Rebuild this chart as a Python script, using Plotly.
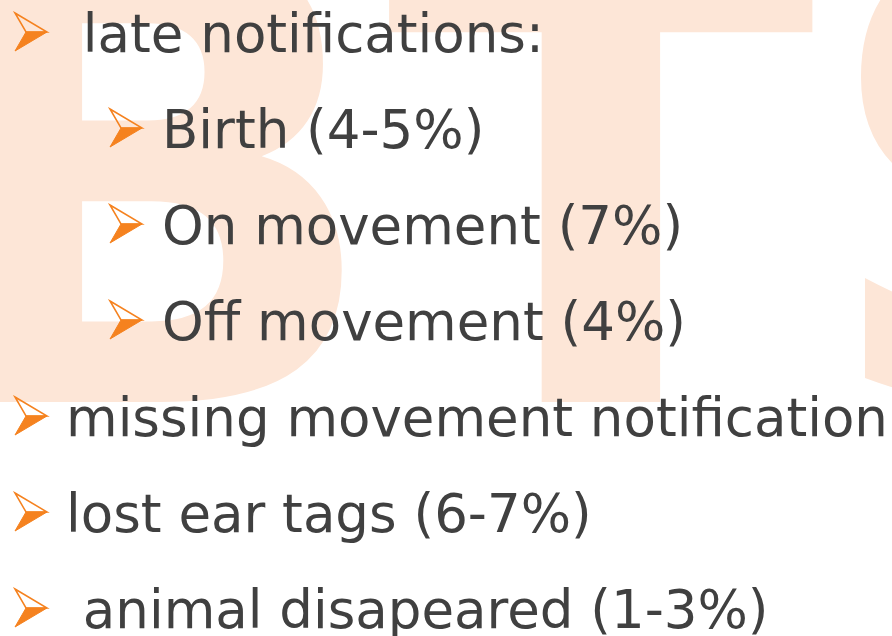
import plotly.graph_objects as go

# Slide content
items = [
    "\u00a0late notifications:",
    "Birth (4-5%)",
    "On movement (7%)",
    "Off movement (4%)",
    "missing movement notification",
    "lost ear tags (6-7%)",
    "\u00a0animal disapeared (1-3%)",
]
levels = [0, 1, 1, 1, 0, 0, 0]
watermark = "BTS"

W, H = 892, 636
TEXT_COLOR = "#404040"
ARROW_COLOR = "#F5821F"
WM_COLOR = "#FDE6D7"

FS = 53
first_baseline = 52
line_gap = 96.0
text_x = {0: 64, 1: 160}
arrow_x = {0: 15, 1: 110}


def px(x):
    return x / W


def py(y):
    return 1 - y / H


fig = go.Figure()

# watermark (in the trace layer, below the bullet arrows and the text)
wm_size = 630
wm_baseline = 402
wm_left = -94
wm_advance = 2.164 * wm_size
fig.add_trace(go.Scatter(
    x=[wm_left + wm_advance / 2], y=[wm_baseline - 0.25 * wm_size], mode="text",
    text=[watermark], textposition="middle center",
    textfont=dict(family="DejaVu Sans", size=wm_size, color=WM_COLOR, weight="bold"),
    cliponaxis=False, hoverinfo="skip", showlegend=False,
))

annotations = []
shapes = []

for i, (txt, lv) in enumerate(zip(items, levels)):
    base = first_baseline + i * line_gap
    annotations.append(dict(
        x=px(text_x[lv]), y=py(base + 0.236 * FS + 1), xref="paper", yref="paper",
        text=txt, showarrow=False, xanchor="left", yanchor="bottom",
        font=dict(family="DejaVu Sans", size=FS, color=TEXT_COLOR),
    ))
    x0 = arrow_x[lv]
    yc = base - 20
    # filled lower half
    shapes.append(dict(
        type="path", xref="x", yref="y",
        path=f"M {x0+11},{yc} L {x0+32},{yc} L {x0},{yc+19} Z",
        fillcolor=ARROW_COLOR, line=dict(color=ARROW_COLOR, width=1), layer="above",
    ))
    # outlined upper half
    shapes.append(dict(
        type="path", xref="x", yref="y",
        path=f"M {x0},{yc-19} L {x0+32},{yc} L {x0+11},{yc} Z",
        fillcolor="rgba(0,0,0,0)", line=dict(color=ARROW_COLOR, width=1.5), layer="above",
    ))

fig.update_layout(
    width=W, height=H,
    margin=dict(l=0, r=0, t=0, b=0),
    paper_bgcolor="white", plot_bgcolor="white",
    xaxis=dict(range=[0, W], visible=False, fixedrange=True),
    yaxis=dict(range=[H, 0], visible=False, fixedrange=True),
    annotations=annotations, shapes=shapes,
    showlegend=False,
)

fig.write_html(
    "out.html",
    config={"displayModeBar": False},
    post_script="document.body.style.margin='0';document.body.style.overflow='hidden';",
)
